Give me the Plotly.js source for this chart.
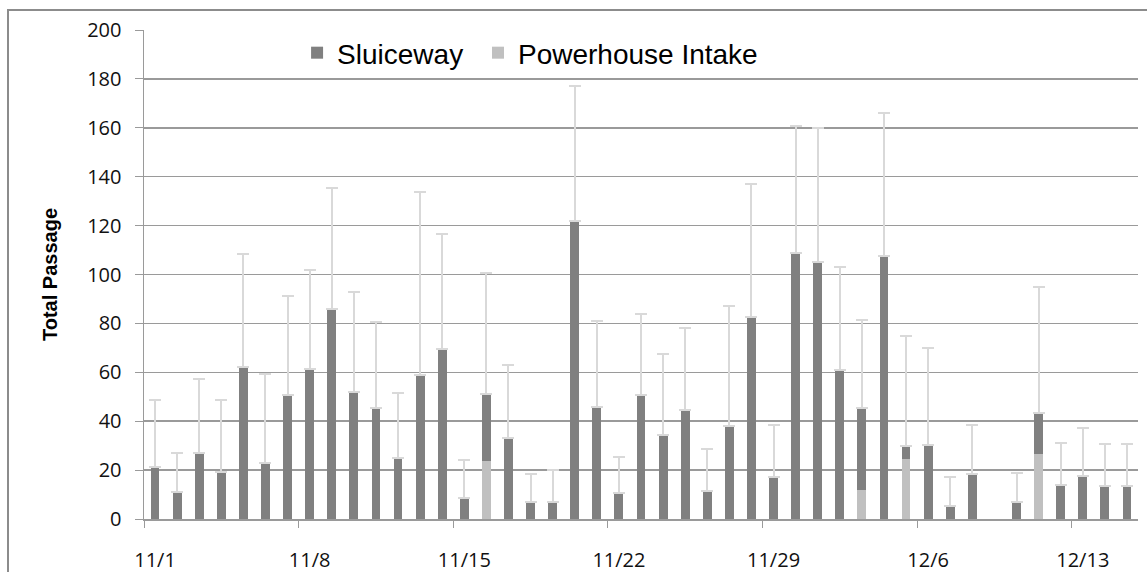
<!DOCTYPE html>
<html>
<head>
<meta charset="utf-8">
<script src="https://cdn.plot.ly/plotly-3.0.1.min.js"></script>
<style>
  body { margin: 0; background: #fff; }
  #chart { width: 1147px; height: 572px; }
</style>
</head>
<body>
<div id="chart"></div>
<script>
// days on the x axis (one bar each)
days = ["11/1","11/2","11/3","11/4","11/5","11/6","11/7","11/8","11/9","11/10",
        "11/11","11/12","11/13","11/14","11/15","11/16","11/17","11/18","11/19","11/20",
        "11/21","11/22","11/23","11/24","11/25","11/26","11/27","11/28","11/29","11/30",
        "12/1","12/2","12/3","12/4","12/5","12/6","12/7","12/8","12/9","12/10",
        "12/11","12/12","12/13","12/14","12/15"];

// sluiceway passage (dark segment)
sluiceway = [21.3, 11.2, 27.0, 19.4, 62.2, 22.8, 50.6, 61.3, 85.9, 52.1,
             45.4, 25.1, 58.9, 69.6, 8.7, 27.5, 33.3, 6.8, 6.8, 121.9,
             45.8, 10.6, 50.8, 34.4, 44.5, 11.6, 38.2, 82.5, 17.3, 108.7,
             105.2, 60.8, 33.6, 107.7, 5.2, 30.4, 5.3, 18.3, null, 6.8,
             16.8, 14.1, 17.5, 13.6, 13.6];

// powerhouse intake passage (light segment, bottom of stack)
powerhouse = [0, 0, 0, 0, 0, 0, 0, 0, 0, 0,
              0, 0, 0, 0, 0, 23.7, 0, 0, 0, 0,
              0, 0, 0, 0, 0, 0, 0, 0, 0, 0,
              0, 0, 11.7, 0, 24.7, 0, 0, 0, null, 0,
              26.6, 0, 0, 0, 0];

// upper error (above the total)
errUpper = [27.3, 15.7, 30.3, 29.2, 46.1, 36.4, 40.8, 40.7, 49.3, 40.6,
            35.1, 26.3, 74.8, 46.8, 15.3, 49.3, 29.6, 11.5, 13.2, 55.2,
            35.1, 14.9, 33.1, 33.0, 33.5, 17.2, 49.1, 54.6, 21.2, 52.0,
            54.8, 42.1, 36.0, 58.2, 45.1, 39.4, 11.7, 20.0, null, 11.9,
            51.6, 17.1, 19.6, 17.1, 17.1];

yTicks = [0, 20, 40, 60, 80, 100, 120, 140, 160, 180, 200];

var gridCol = '#9a9a9a';
var legFont = { family: 'Liberation Sans, Arial, sans-serif', size: 28, color: '#000' };

tracks = [
  {
    x: days, y: powerhouse,
    type: 'bar',
    name: 'Powerhouse Intake',
    legend: 'legend2',
    marker: { color: '#c0c0c0', line: { width: 0 } },
    hoverinfo: 'x+y+name'
  },
  {
    x: days, y: sluiceway,
    type: 'bar',
    name: 'Sluiceway',
    legend: 'legend',
    marker: { color: '#808080', line: { width: 0 } },
    error_y: {
      type: 'data',
      symmetric: false,
      array: errUpper,
      arrayminus: days.map(function () { return 0; }),
      color: '#d9d9d9',
      thickness: 2,
      width: 6
    },
    hoverinfo: 'x+y+name'
  }
];

layout = {
  width: 1147,
  height: 572,
  barmode: 'stack',
  bargap: 0.6,
  paper_bgcolor: '#fff',
  plot_bgcolor: '#fff',
  font: { family: 'Liberation Sans, Arial, sans-serif', color: '#000' },
  margin: { l: 144, r: 9, t: 30, b: 53, pad: 0 },
  showlegend: true,
  legend: {
    orientation: 'h',
    x: 0.154, xanchor: 'left',
    y: 0.953, yanchor: 'middle',
    font: legFont,
    bgcolor: 'rgba(0,0,0,0)',
    borderwidth: 0
  },
  legend2: {
    orientation: 'h',
    x: 0.336, xanchor: 'left',
    y: 0.953, yanchor: 'middle',
    font: legFont,
    bgcolor: 'rgba(0,0,0,0)',
    borderwidth: 0
  },
  xaxis: {
    type: 'category',
    tickmode: 'linear',
    tick0: 0,
    dtick: 7,
    tickson: 'boundaries',
    tickangle: 0,
    ticks: 'outside',
    ticklen: 7,
    tickcolor: gridCol,
    ticklabelstandoff: 22,
    showgrid: false,
    showline: true,
    linecolor: gridCol,
    linewidth: 1.5,
    range: [-0.5, 44.5],
    tickfont: { family: 'Open Sans, sans-serif', size: 20, color: '#111' },
    fixedrange: true
  },
  yaxis: {
    range: [0, 200],
    tickvals: yTicks,
    ticks: 'outside',
    ticklen: 8,
    tickcolor: gridCol,
    ticklabelstandoff: 9,
    showgrid: true,
    gridcolor: gridCol,
    gridwidth: 1.5,
    zeroline: false,
    showline: true,
    linecolor: gridCol,
    linewidth: 1.5,
    tickfont: { family: 'Open Sans, sans-serif', size: 20, color: '#111' },
    title: {
      text: '<b>Total Passage</b>',
      standoff: 24,
      font: { family: 'Liberation Sans, Arial, sans-serif', size: 20, color: '#000' }
    },
    fixedrange: true
  },
  shapes: [
    // outer chart border
    {
      type: 'rect', xref: 'paper', yref: 'paper', layer: 'below',
      x0: (8 - 144) / 994, x1: 1.03,
      y0: -0.2, y1: 1 + 20 / 489,
      line: { color: '#8c8c8c', width: 2 },
      fillcolor: 'rgba(0,0,0,0)'
    }
  ]
};

Plotly.newPlot('chart', tracks, layout, { displayModeBar: false, staticPlot: true });
</script>
</body>
</html>
